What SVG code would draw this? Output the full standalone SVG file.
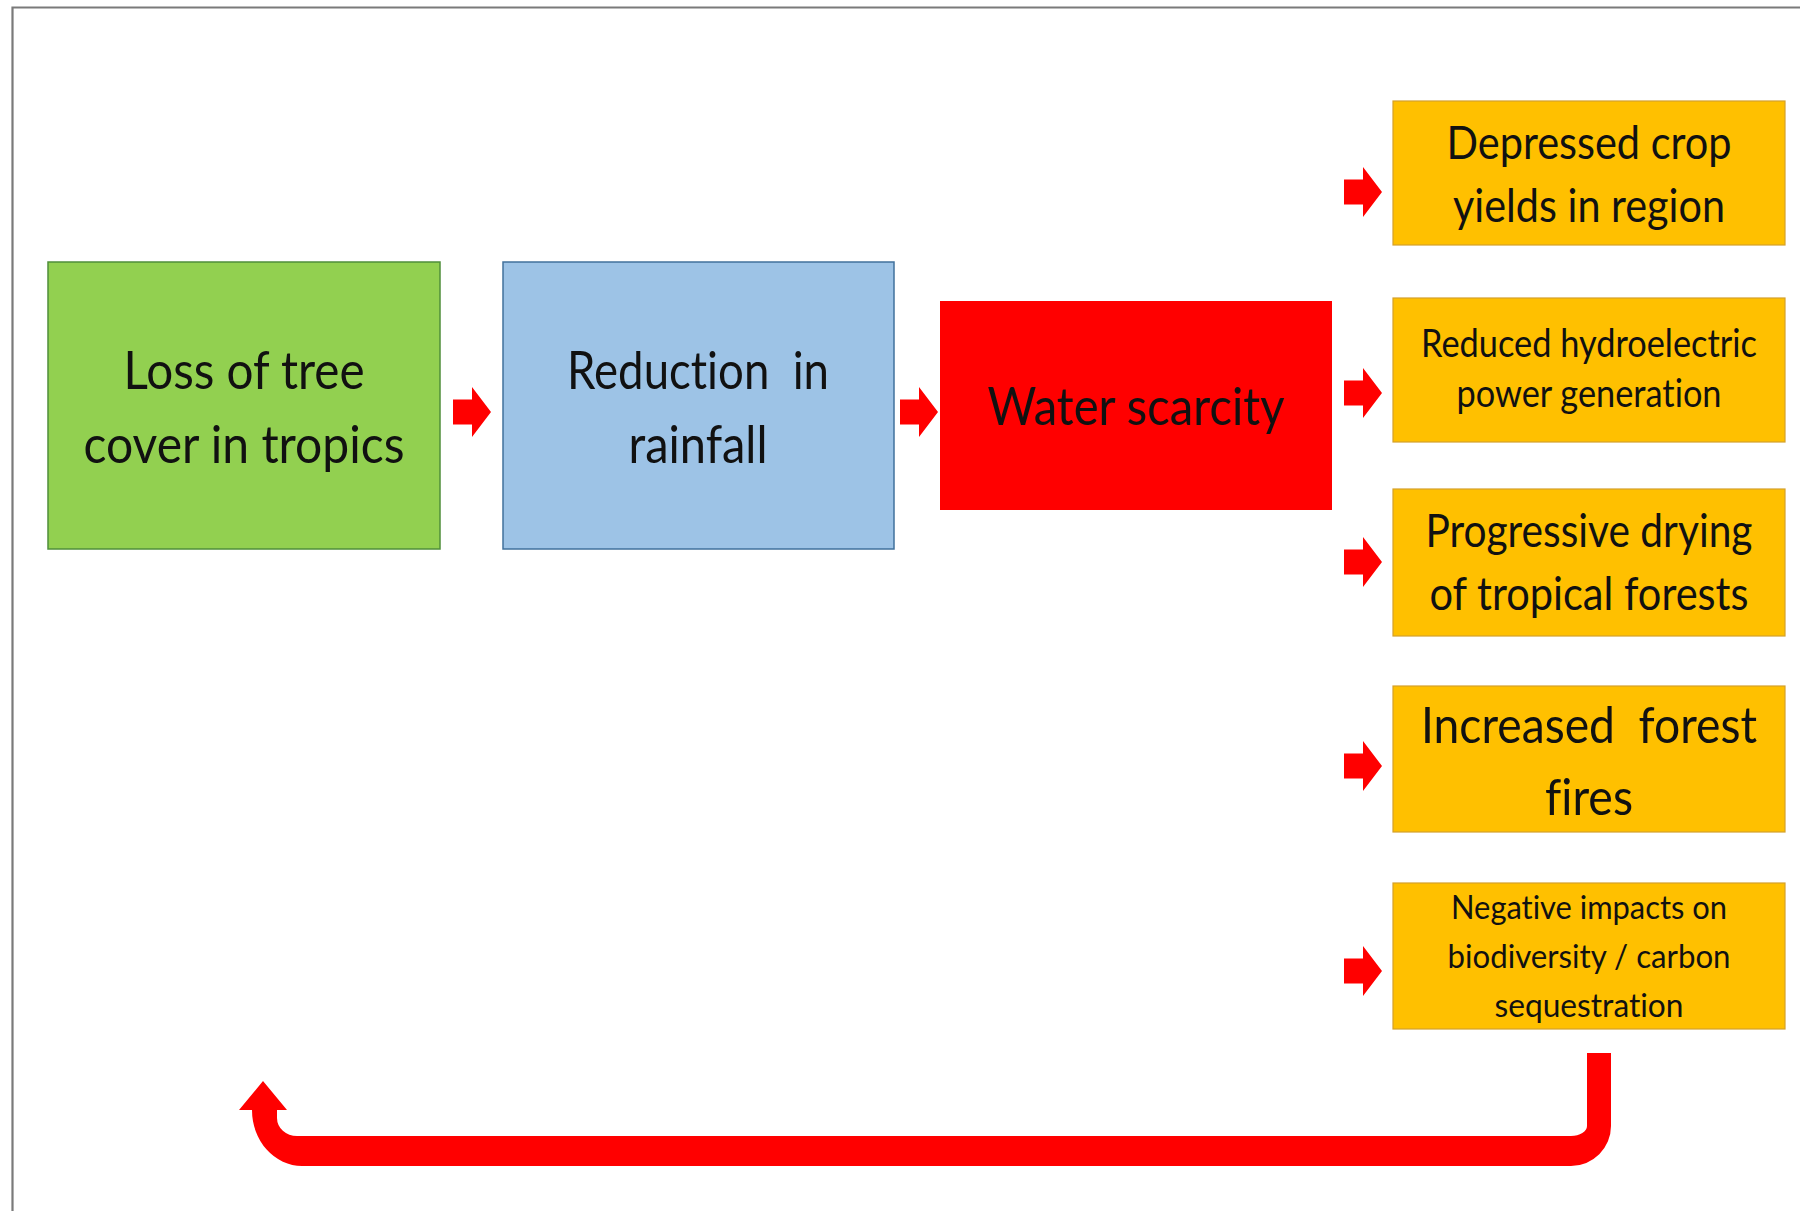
<svg xmlns="http://www.w3.org/2000/svg" xmlns:xlink="http://www.w3.org/1999/xlink" width="1800" height="1211" viewBox="0 0 1800 1211">
<style>
text{font-family:"Lato","Open Sans",sans-serif;fill:#111;text-anchor:middle;font-variant-ligatures:none;font-feature-settings:"liga" 0,"clig" 0}
.green{fill:#92d050;stroke:#4f8f3a;stroke-width:1.5}
.blue{fill:#9dc3e6;stroke:#41719c;stroke-width:1.5}
.red{fill:#ff0000}
.orange{fill:#ffc000;stroke:#d4a02a;stroke-width:1.2}
.arr{fill:#f00}
</style>
<defs>
<path id="blk" d="M0,-12.5 H19 V-25 L38,0 L19,25 V12.5 H0 Z"/>
</defs>
<rect x="0" y="0" width="1800" height="1211" fill="#fff"/>
<path d="M12.5,1211 V7.5 H1800" fill="none" stroke="#7a7a7a" stroke-width="2.2"/>

<g id="n1">
<rect class="green" x="48" y="262" width="392" height="287"/>
<text x="244" y="389" font-size="53" textLength="241" lengthAdjust="spacingAndGlyphs">Loss of tree</text>
<text x="244" y="463" font-size="53" textLength="321" lengthAdjust="spacingAndGlyphs">cover in tropics</text>
</g>
<g id="n2">
<rect class="blue" x="503" y="262" width="391" height="287"/>
<text x="698" y="389" font-size="53" textLength="262" lengthAdjust="spacingAndGlyphs" xml:space="preserve">Reduction  in</text>
<text x="698" y="463" font-size="53" textLength="139" lengthAdjust="spacingAndGlyphs">rainfall</text>
</g>
<g id="n3">
<rect class="red" x="940" y="301" width="392" height="209"/>
<text x="1136" y="425" font-size="53" textLength="297" lengthAdjust="spacingAndGlyphs">Water scarcity</text>
</g>
<g id="n4">
<rect class="orange" x="1393" y="101" width="392" height="144"/>
<text x="1589" y="159" font-size="47" textLength="285" lengthAdjust="spacingAndGlyphs">Depressed crop</text>
<text x="1589" y="222" font-size="47" textLength="272" lengthAdjust="spacingAndGlyphs">yields in region</text>
</g>
<g id="n5">
<rect class="orange" x="1393" y="298" width="392" height="144"/>
<text x="1589" y="357" font-size="38" textLength="336" lengthAdjust="spacingAndGlyphs">Reduced hydroelectric</text>
<text x="1589" y="407" font-size="38" textLength="265" lengthAdjust="spacingAndGlyphs">power generation</text>
</g>
<g id="n6">
<rect class="orange" x="1393" y="489" width="392" height="147"/>
<text x="1589" y="547" font-size="46" textLength="327" lengthAdjust="spacingAndGlyphs">Progressive drying</text>
<text x="1589" y="610" font-size="46" textLength="319" lengthAdjust="spacingAndGlyphs">of tropical forests</text>
</g>
<g id="n7">
<rect class="orange" x="1393" y="686" width="392" height="146"/>
<text x="1589" y="743" font-size="51" textLength="336" lengthAdjust="spacingAndGlyphs" xml:space="preserve">Increased  forest</text>
<text x="1589" y="815" font-size="51" textLength="88" lengthAdjust="spacingAndGlyphs">fires</text>
</g>
<g id="n8">
<rect class="orange" x="1393" y="883" width="392" height="146"/>
<text x="1589" y="919" font-size="33" textLength="276" lengthAdjust="spacingAndGlyphs">Negative impacts on</text>
<text x="1589" y="968" font-size="33" textLength="283" lengthAdjust="spacingAndGlyphs">biodiversity / carbon</text>
<text x="1589" y="1017" font-size="33" textLength="189" lengthAdjust="spacingAndGlyphs">sequestration</text>
</g>

<g id="connectors">
<use xlink:href="#blk" class="arr" x="453" y="412"/>
<use xlink:href="#blk" class="arr" x="900" y="412"/>
<use xlink:href="#blk" class="arr" x="1344" y="192"/>
<use xlink:href="#blk" class="arr" x="1344" y="393"/>
<use xlink:href="#blk" class="arr" x="1344" y="562"/>
<use xlink:href="#blk" class="arr" x="1344" y="766"/>
<use xlink:href="#blk" class="arr" x="1344" y="971"/>
<path class="arr" d="M263,1081 L287,1110 L277,1110 L277,1118 A20,18 0 0 0 297,1136 L1571,1136 A16,10 0 0 0 1587,1126 L1587,1053 L1611,1053 L1611,1126 A40,40 0 0 1 1571,1166 L302,1166 A50,56 0 0 1 252,1110 L239,1110 Z"/>
</g>
</svg>
